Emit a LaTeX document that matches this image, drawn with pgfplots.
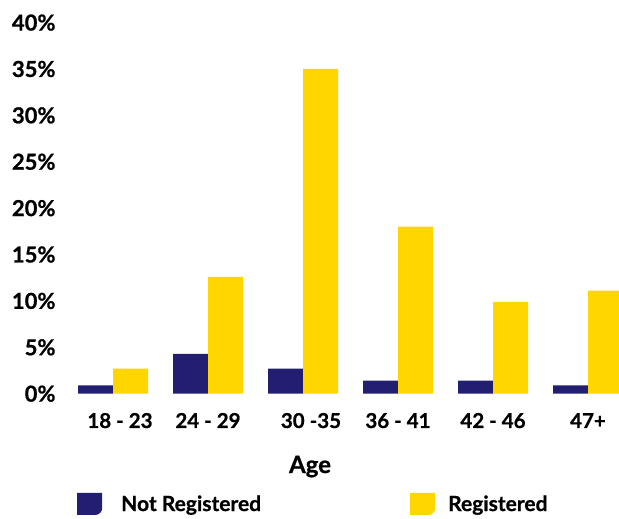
\documentclass[border=0pt]{standalone}
\usepackage{fontspec}
\setmainfont{Lato}[BoldFeatures={FakeBold=0.8}]
\usepackage{pgfplots}
\pgfplotsset{compat=1.18}
\definecolor{navy}{HTML}{221F70}
\definecolor{gold}{HTML}{FFD600}
\begin{document}
\begin{tikzpicture}[x=1pt,y=1pt]
\useasboundingbox (0,0) rectangle (619,519);
\begin{axis}[
  at={(65.5pt,125.3pt)}, anchor=south west,
  scale only axis, width=570pt, height=371.1pt,
  xmin=-0.5, xmax=5.5, ymin=0, ymax=40,
  axis line style={draw=none},
  major tick length=0pt,
  tick style={draw=none},
  ybar=0pt, bar width=35pt,
  xtick={0,1,2,3,4,5},
  xticklabels={\hspace{14pt}18 - 23, 24 - 29, \hspace{16pt}30 -35, 36 - 41, 42 - 46, 47+},
  ytick={0,5,...,40},
  yticklabel={\pgfmathprintnumber{\tick}\%},
  /pgf/number format/assume math mode=true,
  yticklabel style={font=\fontsize{22}{26}\selectfont\bfseries, anchor=east, inner sep=0pt, xshift=-9.8pt},
  xticklabel style={font=\fontsize{20.5}{24}\selectfont\bfseries, anchor=base, inner sep=0pt, yshift=-34.3pt},
  xlabel={Age},
  xlabel style={at={(axis description cs:0.429,-0.2137)}, anchor=base, font=\fontsize{24}{28}\selectfont\bfseries, inner sep=0pt},
  legend columns=2,
  legend style={draw=none, fill=none, at={(0.0202,-0.2972)}, anchor=west,
    font=\fontsize{21}{25}\selectfont\bfseries, inner sep=0pt,
    nodes={inner sep=0pt},
    /tikz/every odd column/.append style={column sep=17pt}},
]
\addplot[fill=navy, draw=none,
  legend image code/.code={\fill (0pt,-11pt) -- (0pt,11pt) -- (25pt,11pt) -- (25pt,-4pt) arc[start angle=0,end angle=-90,radius=7pt] -- cycle;}]
  coordinates {(0,0.9) (1,4.3) (2,2.7) (3,1.4) (4,1.4) (5,0.9)};
\addlegendentry{\hspace{2pt}\makebox[289pt][l]{Not Registered}}
\addplot[fill=gold, draw=none,
  legend image code/.code={\fill (0pt,-11pt) -- (0pt,11pt) -- (25pt,11pt) -- (25pt,-4pt) arc[start angle=0,end angle=-90,radius=7pt] -- cycle;}]
  coordinates {(0,2.7) (1,12.6) (2,35) (3,18) (4,9.9) (5,11.1)};
\addlegendentry{\hspace{-4pt}Registered}
\end{axis}
\end{tikzpicture}
\end{document}
